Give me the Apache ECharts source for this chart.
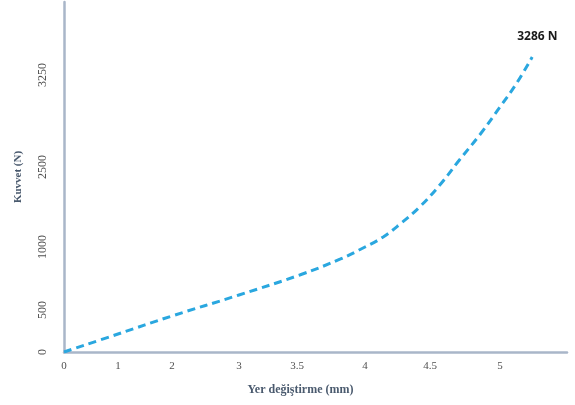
<!DOCTYPE html>
<html>
<head>
<meta charset="utf-8">
<script src="https://cdn.jsdelivr.net/npm/echarts@6/dist/echarts.min.js"></script>
<style>html,body{margin:0;padding:0;background:#fff}#c{width:575px;height:405px}</style>
</head>
<body>
<div id="c"></div>
<script>
// Data (displacement in mm, force in N)
const displacementMm = [0, 1, 2, 3, 3.52, 3.82, 4.0, 4.14, 4.27, 4.42, 4.57, 4.71, 4.86, 5.0, 5.12, 5.23];
const forceN        = [0, 214, 429, 619, 778, 905, 1000, 1188, 1431, 1750, 2162, 2557, 2769, 2989, 3185, 3286];
const endLabel = '3286 N';

// Axis tick labels (the original chart uses a non-uniform drawn scale)
const xTickLabels = ['0', '1', '2', '3', '3.5', '4', '4.5', '5'];
const xTickValues = [0, 1, 2, 3, 3.5, 4, 4.5, 5];
const yTickLabels = ['0', '500', '1000', '2500', '3250'];
const yTickValues = [0, 500, 1000, 2500, 3250];

// Scale definition of the drawn axes (value -> axis unit)
const xScaleVals = [0, 1, 2, 3, 3.5, 4, 4.5, 5];
const xScaleUnits = [0, 54, 108, 175, 233, 301, 366, 436];
const xAxisMaxUnit = 503;
const yScaleVals = [0, 500, 1000, 2500, 3250, 3286];
const yScaleUnits = [0, 42, 105, 185, 277, 295];
const yAxisMaxUnit = 350;

function mapScale(v, vals, units) {
  let i = 0;
  while (i < vals.length - 2 && v > vals[i + 1]) i++;
  const t = (v - vals[i]) / (vals[i + 1] - vals[i]);
  return units[i] + t * (units[i + 1] - units[i]);
}
const xTickUnits = xTickValues.map(v => mapScale(v, xScaleVals, xScaleUnits));
const yTickUnits = yTickValues.map(v => mapScale(v, yScaleVals, yScaleUnits));
function labelFor(u, units, labels) {
  let best = 0;
  for (let i = 1; i < units.length; i++) if (Math.abs(units[i] - u) < Math.abs(units[best] - u)) best = i;
  return labels[best];
}

const seriesData = displacementMm.map((x, i) =>
  [mapScale(x, xScaleVals, xScaleUnits), mapScale(forceN[i], yScaleVals, yScaleUnits)]);

const axisColor = '#a9b6c9';
const chart = echarts.init(document.getElementById('c'), null, {renderer: 'canvas'});
chart.setOption({
  animation: false,
  backgroundColor: '#ffffff',
  grid: {left: 64, right: 8, top: 2, bottom: 53, containLabel: false},
  xAxis: {
    type: 'value', min: 0, max: xAxisMaxUnit,
    axisLine: {show: true, lineStyle: {color: axisColor, width: 2.5}},
    axisTick: {show: false},
    splitLine: {show: false},
    axisLabel: {
      customValues: xTickUnits, margin: 9,
      formatter: v => labelFor(v, xTickUnits, xTickLabels),
      fontFamily: 'Liberation Serif', fontSize: 11, color: '#505050'
    },
    name: 'Yer değiştirme (mm)', nameLocation: 'middle', nameGap: 32,
    nameTextStyle: {fontFamily: 'Liberation Serif', fontWeight: 'bold', fontSize: 12, color: '#4a5a6e', padding: [0, 30, 0, 0]}
  },
  yAxis: {
    type: 'value', min: 0, max: yAxisMaxUnit,
    axisLine: {show: true, lineStyle: {color: axisColor, width: 2.5}},
    axisTick: {show: false},
    splitLine: {show: false},
    axisLabel: {
      customValues: yTickUnits, margin: 15, rotate: 90,
      formatter: v => labelFor(v, yTickUnits, yTickLabels),
      fontFamily: 'Liberation Serif', fontSize: 12, color: '#505050'
    },
    name: 'Kuvvet (N)', nameLocation: 'middle', nameGap: 40,
    nameTextStyle: {fontFamily: 'Liberation Serif', fontWeight: 'bold', fontSize: 11, color: '#4a5a6e'}
  },
  series: [{
    type: 'line', data: seriesData, smooth: 0.4, showSymbol: false, symbol: 'none',
    lineStyle: {color: '#2aa7df', width: 3, type: [8, 5]},
    endLabel: {
      show: true, formatter: endLabel, offset: [-23, -20],
      fontFamily: 'Open Sans', fontWeight: 'bold', fontSize: 12, color: '#1a1a1a'
    }
  }]
});
</script>
</body>
</html>
